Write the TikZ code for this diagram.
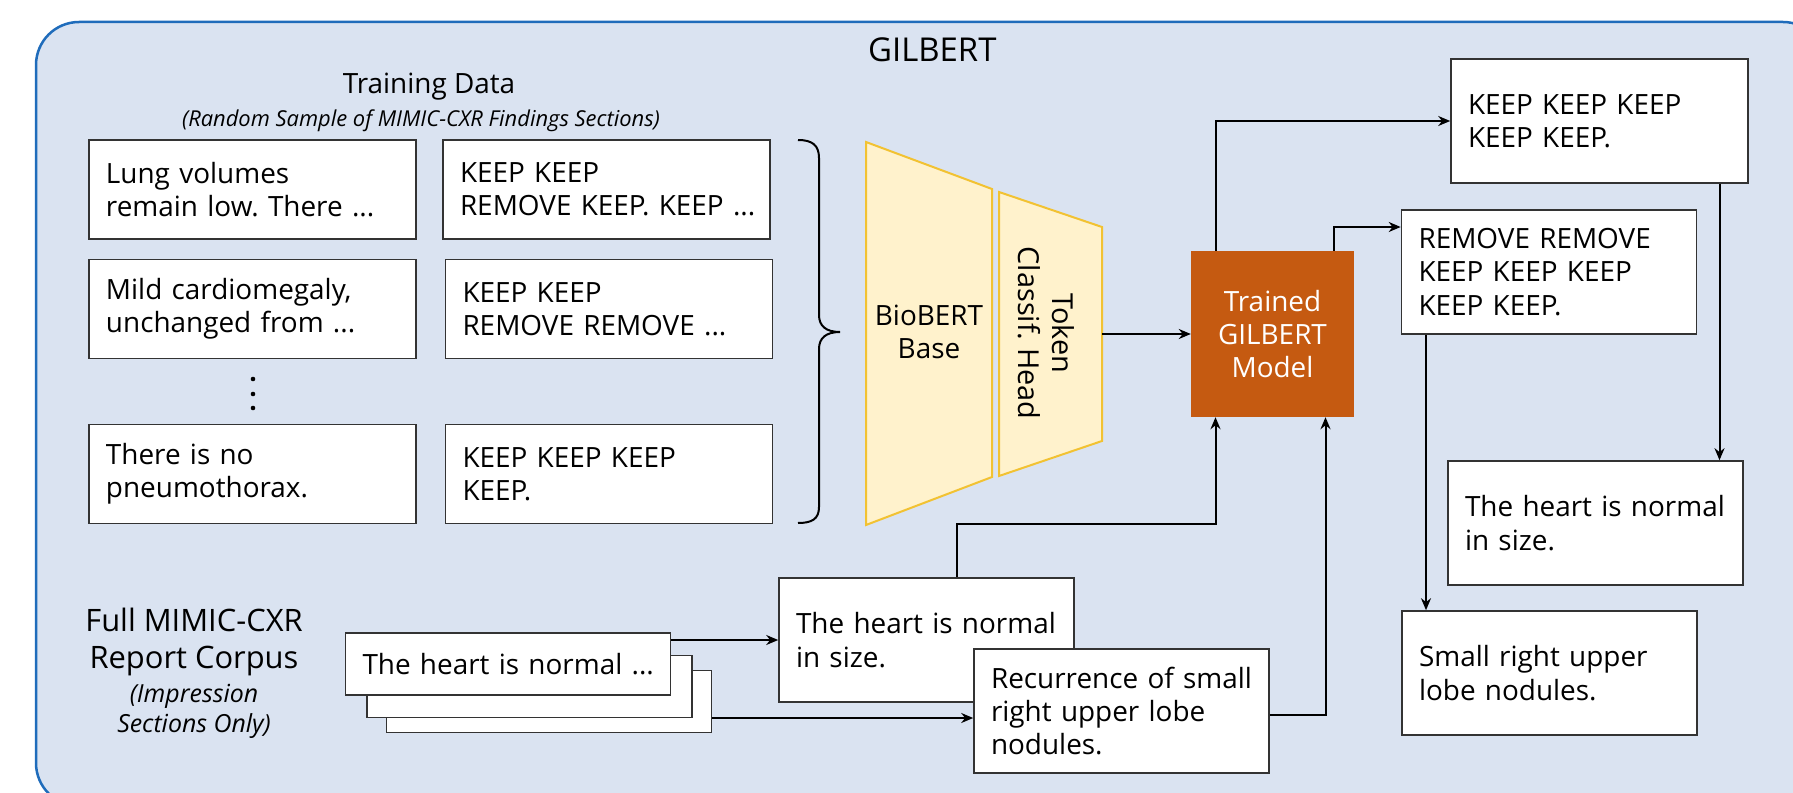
\documentclass[tikz,border=0pt]{standalone}
\usepackage{fontspec}
\setmainfont{Open Sans}
\usetikzlibrary{arrows.meta}
\definecolor{panelfill}{HTML}{DAE3F1}
\definecolor{panelline}{HTML}{1F6CBB}
\definecolor{modelfill}{HTML}{C55A11}
\definecolor{layerfill}{HTML}{FFF2CC}
\definecolor{layerline}{HTML}{F2C232}
\definecolor{boxline}{HTML}{333333}
% keep each typed line of a box on one line
\newcommand\oneline[1]{\mbox{#1}}
\frenchspacing

\begin{document}
\begin{tikzpicture}[x=1bp,y=-1bp,
  txt/.style={font=\fontsize{28}{33.5}\selectfont},
  tbox/.style={draw=boxline, fill=white, line width=1.6bp, inner xsep=17bp, inner ysep=0pt, align=left, txt},
  lbox/.style={tbox, minimum width=327bp, minimum height=99bp, text width=293bp},
  rbox/.style={tbox, minimum width=295bp, minimum height=124bp, text width=261bp},
  sbox/.style={tbox, minimum width=325bp, minimum height=62bp, text width=291bp},
  layer/.style={fill=layerfill, draw=layerline, line width=2bp, line join=miter},
  arr/.style={draw=black, line width=2bp, -{Stealth[length=12bp,width=10bp]}}]

\useasboundingbox (0,0) rectangle (1793,793);
\clip (0,0) rectangle (1793,793);
\fill[white] (0,0) rectangle (1793,793);

% panel
\draw[fill=panelfill, draw=panelline, line width=2.5bp, rounded corners=43bp]
  (36,22) rectangle (1826,806);

\node[font=\fontsize{33}{39}\selectfont, anchor=base west, inner sep=0] (title) at (868,62) {GILBERT};

% training data
\node[txt, anchor=base, inner sep=0] (tdata) at (429,93) {Training Data};
\node[font=\fontsize{22}{26}\selectfont\itshape, anchor=base, inner sep=0] (tsub) at (421,126)
  {(Random Sample of MIMIC-CXR Findings Sections)};

\node[lbox] (d1) at (252.5,189.5) {\oneline{Lung volumes}\\\oneline{remain low. There ...}};
\node[lbox] (l1) at (606.5,189.5) {\oneline{KEEP KEEP}\\\oneline{REMOVE KEEP. KEEP ...}};
\node[lbox] (d2) at (252.5,309) {\oneline{Mild cardiomegaly,}\\\oneline{unchanged from ...}};
\node[lbox] (l2) at (609,309) {\oneline{KEEP KEEP}\\\oneline{REMOVE REMOVE ...}};
\node[lbox] (d3) at (252.5,474) {\oneline{There is no}\\\oneline{pneumothorax.}};
\node[lbox] (l3) at (609,474) {\oneline{KEEP KEEP KEEP}\\\oneline{KEEP.}};

\fill (253,379) circle (2.3bp);
\fill (253,394) circle (2.3bp);
\fill (253,408) circle (2.3bp);

% brace
\draw[line width=2bp] (798,140) .. controls (812,140) and (819,145) .. (819,158)
  -- (819,315) .. controls (819,326) and (826,332) .. (840,332)
  .. controls (826,332) and (819,338) .. (819,349)
  -- (819,507) .. controls (819,519) and (812,523) .. (798,523);

% model layers
\draw[layer] (866,142) -- (992,189) -- (992,477) -- (866,525) -- cycle;
\draw[layer] (999,192) -- (1102,227) -- (1102,441) -- (999,476) -- cycle;
\node[txt, align=center] (bio) at (929,332) {BioBERT\\Base};
\node[font=\fontsize{29}{34}\selectfont, align=center, rotate=-90] (head) at (1046,333) {Token\\Classif. Head};
\coordinate (headout) at (1102,334);

\node[fill=modelfill, minimum width=163bp, minimum height=166bp, txt, text=white, align=center]
  (trained) at (1272.5,334) {Trained\\GILBERT\\Model};

% outputs
\node[rbox, minimum width=297bp, text width=263bp] (keep) at (1599.5,121) {\oneline{KEEP KEEP KEEP}\\\oneline{KEEP KEEP.}};
\node[rbox] (remove) at (1549,272) {\oneline{REMOVE REMOVE}\\\oneline{KEEP KEEP KEEP}\\\oneline{KEEP KEEP.}};
\node[rbox] (heartR) at (1595.5,523) {\oneline{The heart is normal}\\\oneline{in size.}};
\node[rbox] (small) at (1549.5,673) {\oneline{Small right upper}\\\oneline{lobe nodules.}};

% corpus
\node[font=\fontsize{31}{37}\selectfont, align=center] (corpus) at (194,642) {Full MIMIC-CXR\\Report Corpus};
\node[font=\fontsize{25}{30}\selectfont\itshape, align=center] (corpusnote) at (194,711) {(Impression\\Sections Only)};

\node[sbox] (back3) at (549,701.5) {};
\node[sbox] (back2) at (529.5,686.5) {};
\node[sbox] (front) at (508,664) {\oneline{The heart is normal ...}};

\node[rbox] (mid) at (926.5,640) {\oneline{The heart is normal}\\\oneline{in size.}};
\node[rbox] (rec) at (1121.5,711) {\oneline{Recurrence of small}\\\oneline{right upper lobe}\\\oneline{nodules.}};

% connectors
\draw[arr] (headout) -- (trained.west);
\draw[arr] ([xshift=-57bp]trained.north) |- (keep.west);
\draw[arr] ([xshift=61bp]trained.north) |- ([yshift=45bp]remove.west);
\draw[arr] ([xshift=120bp]keep.south) -- ([xshift=120bp]keep.south |- heartR.north);
\draw[arr] ([xshift=-123bp]remove.south) -- ([xshift=-123bp]remove.south |- small.north);
\draw[arr] (front.east |- mid.west) -- (mid.west);
\coordinate (recin) at ([yshift=-7bp]rec.west);
\draw[arr] (recin -| back3.east) -- (recin);
\draw[arr] ([xshift=30bp]mid.north) -- ++(0,-53) -| ([xshift=-57bp]trained.south);
\draw[arr] ([yshift=-4bp]rec.east) -| ([xshift=53bp]trained.south);
\end{tikzpicture}
\end{document}
